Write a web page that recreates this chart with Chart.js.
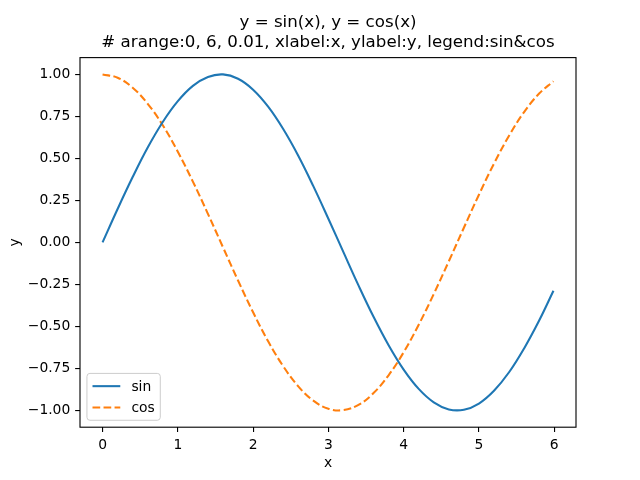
<!DOCTYPE html>
<html><head><meta charset="utf-8">
<script src="https://cdn.jsdelivr.net/npm/chart.js@4/dist/chart.umd.min.js"></script>
<style>html,body{margin:0;padding:0;background:#fff}#wrap{width:640px;height:480px}</style>
</head><body><div id="wrap"><canvas id="c" width="640" height="480"></canvas></div>
<script>
const xValues = [0,0.2,0.4,0.6,0.8,1.0,1.2,1.4,1.6,1.8,2.0,2.2,2.4,2.6,2.8,3.0,3.2,3.4,3.6,3.8,4.0,4.2,4.4,4.6,4.8,5.0,5.2,5.4,5.6,5.8,5.99];
const sinValues = [0.000,0.199,0.389,0.565,0.717,0.841,0.932,0.985,1.000,0.974,0.909,0.808,0.675,0.516,0.335,0.141,-0.058,-0.256,-0.443,-0.612,-0.757,-0.872,-0.952,-0.994,-0.996,-0.959,-0.883,-0.773,-0.631,-0.465,-0.288];
const cosValues = [1.000,0.980,0.921,0.825,0.697,0.540,0.362,0.170,-0.029,-0.227,-0.416,-0.589,-0.737,-0.857,-0.942,-0.990,-0.998,-0.967,-0.897,-0.791,-0.654,-0.490,-0.307,-0.112,0.087,0.284,0.469,0.635,0.776,0.886,0.959];
const xTicks = [0,1,2,3,4,5,6];
const yTicks = [-1,-0.75,-0.5,-0.25,0,0.25,0.5,0.75,1];
const seriesLabels = ['sin','cos'];
const titleLines = ['y = sin(x), y = cos(x)', '# arange:0, 6, 0.01, xlabel:x, ylabel:y, legend:sin&cos'];
const xAxisLabel = 'x';
const yAxisLabel = 'y';

const FONT = '"DejaVu Sans", sans-serif';
Chart.defaults.font.family = FONT;
Chart.defaults.color = '#000';

const toPts = (ys) => xValues.map((x, i) => ({x: x, y: ys[i]}));

const framePlugin = {
  id: 'frameLegend',
  afterDatasetsDraw(chart) {
    const {ctx, chartArea: a} = chart;
    ctx.save();
    ctx.strokeStyle = '#000';
    ctx.lineWidth = 1.11;
    ctx.strokeRect(a.left, a.top, a.right - a.left, a.bottom - a.top);
    // legend (lower left, inside)
    const fs = 13.89;
    ctx.font = fs + 'px ' + FONT;
    const pad = 0.5 * fs, bp = 0.4 * fs, hl = 2 * fs, htp = 0.8 * fs, ls = 0.5 * fs, rowH = 14.4;
    const ds = chart.data.datasets;
    const textW = Math.max(...ds.map(d => ctx.measureText(d.label).width));
    const w = bp * 2 + hl + htp + textW;
    const h = bp * 2 + rowH * ds.length + ls * (ds.length - 1);
    const x0 = a.left + pad, y0 = a.bottom - pad - h;
    ctx.beginPath();
    ctx.roundRect(x0, y0, w, h, 3);
    ctx.fillStyle = 'rgba(255,255,255,0.8)';
    ctx.fill();
    ctx.strokeStyle = '#cccccc';
    ctx.lineWidth = 1;
    ctx.stroke();
    ds.forEach((d, i) => {
      const cy = y0 + bp + rowH / 2 + i * (rowH + ls);
      ctx.beginPath();
      ctx.setLineDash(d.borderDash || []);
      ctx.strokeStyle = d.borderColor;
      ctx.lineWidth = d.borderWidth;
      ctx.moveTo(x0 + bp, cy);
      ctx.lineTo(x0 + bp + hl, cy);
      ctx.stroke();
      ctx.setLineDash([]);
      ctx.fillStyle = '#000';
      ctx.textBaseline = 'middle';
      ctx.textAlign = 'left';
      ctx.fillText(d.label, x0 + bp + hl + htp, cy + 1);
    });
    ctx.restore();
  }
};

const tickFont = {size: 13.89, family: FONT};
new Chart(document.getElementById('c'), {
  type: 'line',
  data: {
    datasets: [
      {label: seriesLabels[0], data: toPts(sinValues), borderColor: '#1f77b4', borderWidth: 2.08, pointRadius: 0, tension: 0.4, fill: false},
      {label: seriesLabels[1], data: toPts(cosValues), borderColor: '#ff7f0e', borderWidth: 2.08, borderDash: [7.7, 3.33], pointRadius: 0, tension: 0.4, fill: false}
    ]
  },
  options: {
    responsive: false,
    animation: false,
    devicePixelRatio: 1,
    layout: {padding: {left: 0, right: 64, top: 0, bottom: 0}},
    plugins: {
      legend: {display: false},
      tooltip: {enabled: false},
      title: {display: true, fullSize: false, text: titleLines, color: '#000', font: {size: 16.67, weight: 'normal', family: FONT, lineHeight: 1.2}, padding: {top: 12.5, bottom: 5.1}}
    },
    scales: {
      x: {
        type: 'linear', min: -0.2995, max: 6.2895,
        afterBuildTicks: s => { s.ticks = xTicks.map(v => ({value: v})); },
        afterFit: s => { s.height = 52.8; },
        ticks: {font: tickFont, padding: 4.86, maxRotation: 0, autoSkip: false, color: '#000', callback: v => String(v)},
        grid: {display: true, drawOnChartArea: false, drawTicks: true, tickLength: 4.86, color: '#000', lineWidth: 1.11},
        border: {display: false},
        title: {display: true, text: xAxisLabel, font: tickFont, color: '#000', padding: {top: 0, bottom: 8}}
      },
      y: {
        type: 'linear', min: -1.1, max: 1.1,
        afterBuildTicks: s => { s.ticks = yTicks.map(v => ({value: v})); },
        afterFit: s => { s.width = 80; },
        ticks: {font: tickFont, padding: 4.86, autoSkip: false, color: '#000', callback: v => (v < 0 ? '\u2212' : '') + Math.abs(v).toFixed(2)},
        grid: {display: true, drawOnChartArea: false, drawTicks: true, tickLength: 4.86, color: '#000', lineWidth: 1.11},
        border: {display: false},
        title: {display: true, text: yAxisLabel, font: tickFont, color: '#000', padding: {top: 7, bottom: 0}}
      }
    }
  },
  plugins: [framePlugin]
});
</script>
</body></html>
